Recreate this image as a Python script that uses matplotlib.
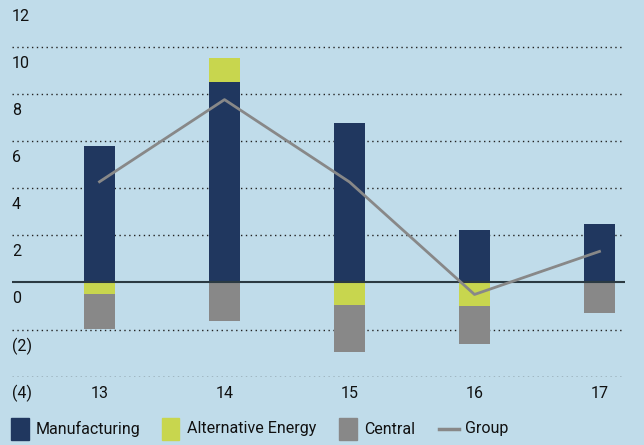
import matplotlib.pyplot as plt
from matplotlib.patches import Rectangle
from matplotlib.lines import Line2D

plt.rcParams['font.family'] = ['Roboto', 'DejaVu Sans']

# Data
years = ['13', '14', '15', '16', '17']
manufacturing = [5.79, 8.54, 6.77, 2.24, 2.49]
alt_energy = [-0.51, 0.99, -0.97, -1.01, 0.0]
central = [-1.47, -1.64, -1.97, -1.60, -1.30]
group = [4.28, 7.77, 4.27, -0.51, 1.32]
y_ticks = [12, 10, 8, 6, 4, 2, 0, -2, -4]
y_labels = ['12', '10', '8', '6', '4', '2', '0', '(2)', '(4)']

bg = '#c0dcea'
c_manu = '#20375f'
c_alt = '#c8d64e'
c_cent = '#888888'
c_group = '#888888'

fig = plt.figure(figsize=(6.44, 4.45), dpi=100, facecolor=bg)
ax = fig.add_axes([12 / 644, (445 - 376.6) / 445, 613 / 644, 378.4 / 445])
ax.set_facecolor(bg)
for s in ax.spines.values():
    s.set_visible(False)
ax.set_xticks([])
ax.set_yticks([])

x = list(range(len(years)))
w = 0.248

# stack: positives above zero, negatives below
for i in x:
    pos, neg = 0.0, 0.0
    for val, col in [(manufacturing[i], c_manu), (alt_energy[i], c_alt), (central[i], c_cent)]:
        if val >= 0:
            ax.bar(i, val, w, bottom=pos, color=col, zorder=2)
            pos += val
        else:
            ax.bar(i, val, w, bottom=neg, color=col, zorder=2)
            neg += val

for t in y_ticks:
    if t == 0 or t == 12:
        continue
    ax.axhline(t, color='#222222', linestyle=(0, (1, 2.5)), linewidth=1.0, zorder=1)
ax.axhline(0, color='#2b3a42', linewidth=1.5, zorder=3)

ax.plot(x, group, color=c_group, linewidth=2, zorder=4)

ax.set_xlim(-0.7, 4.204)
ax.set_ylim(-4, 12.08)

for t, lab in zip(y_ticks, y_labels):
    ax.text(-0.7, t - 0.7, lab, ha='left', va='center', fontsize=11.5,
            color='#111111', clip_on=False)
for i, lab in zip(x, years):
    ax.text(i, -4.7, lab, ha='center', va='center', fontsize=11.5,
            color='#111111', clip_on=False)

# Legend
leg_names = ['Manufacturing', 'Alternative Energy', 'Central', 'Group']
leg_colors = [c_manu, c_alt, c_cent, c_group]
leg_x = [11, 162, 339, 439]
for name, col, lx in zip(leg_names, leg_colors, leg_x):
    if name == 'Group':
        fig.add_artist(Line2D([lx / 644, (lx + 20) / 644], [1 - 429 / 445] * 2,
                              color=col, linewidth=2.5))
        tx = lx + 26
    else:
        fig.add_artist(Rectangle((lx / 644, 1 - 440 / 445), 17.5 / 644, 22 / 445,
                                 color=col, transform=fig.transFigure))
        tx = lx + 25
    fig.text(tx / 644, 1 - 429 / 445, name, ha='left', va='center',
             fontsize=11.5, color='#111111')

fig.savefig('out.png', dpi=100, facecolor=bg)
